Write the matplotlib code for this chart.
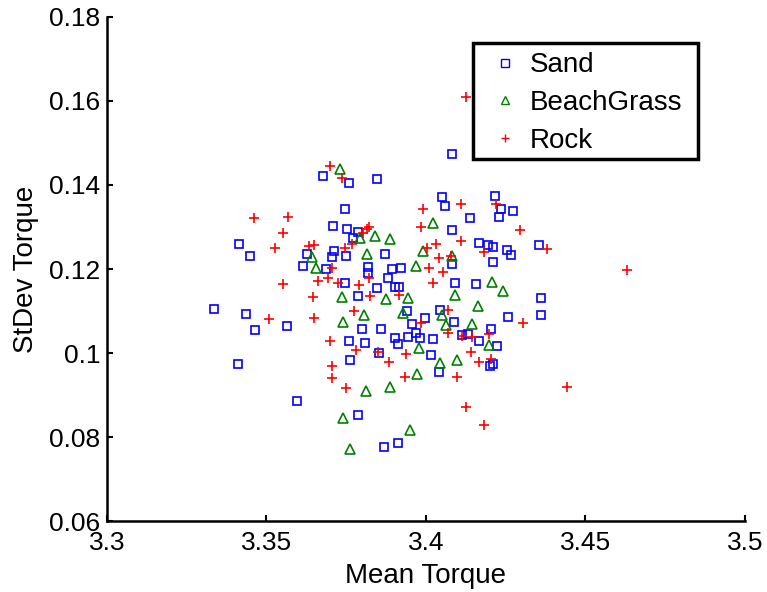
import numpy as np
import matplotlib
matplotlib.use("Agg")
import matplotlib.pyplot as plt
from matplotlib.patches import Rectangle

plt.rcParams['font.family'] = ['Liberation Sans', 'DejaVu Sans']

# Sand
sand_x = [3.4082, 3.3678, 3.3847, 3.3758, 3.4049, 3.4061, 3.3746, 3.4215, 3.4234, 3.4272,
          3.4230, 3.4139, 3.3708, 3.3751, 3.3788, 3.4082, 3.3772, 3.3414, 3.3449, 3.3628,
          3.3613, 3.3687, 3.3712, 3.3704, 3.3749, 3.3871, 3.4081, 3.3817, 3.3819, 3.3892,
          3.3921, 3.3747, 3.3881, 3.3847, 3.3904, 3.3916, 3.4091, 3.3786, 3.4166, 3.4195,
          3.4211, 3.4255, 3.4266, 3.4353, 3.4211, 3.4156, 3.4359, 3.4361, 3.3335, 3.3436,
          3.3464, 3.3563, 3.3411, 3.3596, 3.3941, 3.3997, 3.4044, 3.4088, 3.3955, 3.3798,
          3.3860, 3.3968, 3.3981, 3.3945, 3.3902, 3.3911, 3.4023, 3.3758, 3.3808, 3.3854,
          3.4017, 3.3762, 3.4042, 3.3788, 3.3913, 3.3869, 3.4112, 3.4133, 3.4258, 3.4203,
          3.4166, 3.4222, 3.4209, 3.4201]
sand_y = [0.1474, 0.1421, 0.1414, 0.1404, 0.1371, 0.1349, 0.1342, 0.1374, 0.1342, 0.1338,
          0.1323, 0.1321, 0.1302, 0.1296, 0.1289, 0.1292, 0.1275, 0.1260, 0.1230, 0.1236,
          0.1207, 0.1201, 0.1244, 0.1229, 0.1231, 0.1235, 0.1211, 0.1204, 0.1190, 0.1200,
          0.1203, 0.1166, 0.1178, 0.1154, 0.1156, 0.1158, 0.1166, 0.1136, 0.1261, 0.1256,
          0.1253, 0.1245, 0.1233, 0.1257, 0.1217, 0.1164, 0.1130, 0.1090, 0.1105, 0.1093,
          0.1054, 0.1064, 0.0975, 0.0886, 0.1100, 0.1084, 0.1102, 0.1074, 0.1069, 0.1056,
          0.1057, 0.1048, 0.1036, 0.1039, 0.1035, 0.1021, 0.1033, 0.1029, 0.1023, 0.1001,
          0.0995, 0.0983, 0.0955, 0.0852, 0.0786, 0.0777, 0.1043, 0.1045, 0.1085, 0.1056,
          0.1029, 0.1017, 0.0973, 0.0969]

# BeachGrass
grass_x = [3.3730, 3.3644, 3.3655, 3.4023, 3.3793, 3.3841, 3.3887, 3.3992, 3.4081, 3.3814,
           3.3968, 3.3736, 3.3876, 3.3945, 3.4091, 3.4206, 3.4240, 3.4162, 3.3807, 3.3739,
           3.3929, 3.4049, 3.4062, 3.4145, 3.3978, 3.4198, 3.4044, 3.4097, 3.3971, 3.3813,
           3.3886, 3.3739, 3.3950, 3.3762]
grass_y = [0.1437, 0.1228, 0.1202, 0.1310, 0.1273, 0.1279, 0.1271, 0.1243, 0.1231, 0.1235,
           0.1208, 0.1133, 0.1129, 0.1130, 0.1137, 0.1170, 0.1148, 0.1113, 0.1090, 0.1075,
           0.1095, 0.1090, 0.1067, 0.1068, 0.1013, 0.1019, 0.0977, 0.0983, 0.0949, 0.0910,
           0.0918, 0.0846, 0.0817, 0.0771]

# Rock
rock_x = [3.4124, 3.3699, 3.3736, 3.3461, 3.3567, 3.3553, 3.3527, 3.3634, 3.3649, 3.3662,
          3.3693, 3.3553, 3.3647, 3.3990, 3.3984, 3.3820, 3.3814, 3.3767, 3.3802, 3.3746,
          3.4031, 3.4004, 3.4042, 3.4078, 3.4010, 3.4054, 3.3705, 3.3725, 3.3822, 3.3791,
          3.3916, 3.4023, 3.3824, 3.4110, 3.4218, 3.4295, 3.4110, 3.4181, 3.4380, 3.4630,
          3.3508, 3.3650, 3.3699, 3.3774, 3.3984, 3.4070, 3.4068, 3.3780, 3.3850, 3.3937,
          3.3885, 3.3705, 3.3934, 3.3705, 3.3749, 3.4096, 3.4303, 3.4112, 3.4143, 3.4198,
          3.4140, 3.4166, 3.4204, 3.4443, 3.4124, 3.4183]
rock_y = [0.1610, 0.1445, 0.1416, 0.1322, 0.1325, 0.1286, 0.1249, 0.1255, 0.1257, 0.1171,
          0.1179, 0.1164, 0.1133, 0.1342, 0.1300, 0.1299, 0.1295, 0.1260, 0.1285, 0.1249,
          0.1259, 0.1251, 0.1227, 0.1231, 0.1203, 0.1194, 0.1202, 0.1166, 0.1179, 0.1162,
          0.1139, 0.1166, 0.1135, 0.1355, 0.1355, 0.1293, 0.1267, 0.1241, 0.1247, 0.1198,
          0.1081, 0.1084, 0.1029, 0.1101, 0.1072, 0.1102, 0.1047, 0.1007, 0.1003, 0.0998,
          0.0978, 0.0969, 0.0942, 0.0940, 0.0916, 0.0942, 0.1072, 0.1040, 0.1039, 0.1045,
          0.1002, 0.0979, 0.0986, 0.0920, 0.0872, 0.0829]

xticks = [3.3, 3.35, 3.4, 3.45, 3.5]
xtick_labels = ['3.3', '3.35', '3.4', '3.45', '3.5']
yticks = [0.06, 0.08, 0.1, 0.12, 0.14, 0.16, 0.18]
ytick_labels = ['0.06', '0.08', '0.1', '0.12', '0.14', '0.16', '0.18']

fig = plt.figure(figsize=(7.67, 5.92), dpi=100)
ax = fig.add_axes([0.1395, 0.1199, 0.8318, 0.8514])

ax.plot(sand_x, sand_y, 's', mfc='none', mec='#0000ff', ms=6.3, mew=1.2, label='Sand')
ax.plot(grass_x, grass_y, '^', mfc='none', mec='#008000', ms=7.5, mew=1.2, label='BeachGrass')
ax.plot(rock_x, rock_y, '+', color='#ff0000', ms=7.5, mew=1.2, label='Rock')

ax.set_xlim(3.3, 3.5)
ax.set_ylim(0.06, 0.18)
ax.set_xticks(xticks)
ax.set_xticklabels(xtick_labels)
ax.set_yticks(yticks)
ax.set_yticklabels(ytick_labels)
ax.tick_params(direction='in', length=4, width=1.5, labelsize=19)
ax.tick_params(axis='x', pad=7)
ax.tick_params(axis='y', pad=5)

for s in ['top', 'right']:
    ax.spines[s].set_visible(False)
for s in ['left', 'bottom']:
    ax.spines[s].set_linewidth(1.8)

ax.set_xlabel('Mean Torque', fontsize=20, labelpad=6)
ax.set_ylabel('StDev Torque', fontsize=20, labelpad=7)

# legend box (MATLAB style thick frame)
ax.add_patch(Rectangle((0.574, 0.718), 0.352, 0.230, transform=ax.transAxes,
                       fill=False, ec='black', lw=2.5, zorder=5, clip_on=False))
leg = ax.legend(loc='upper left', bbox_to_anchor=(0.574, 0.938), borderaxespad=0,
                fontsize=20, frameon=False, handlelength=2.0, handletextpad=-0.1,
                labelspacing=0.42, borderpad=0.15, numpoints=1)
for h in leg.legend_handles:
    h.set_markersize(6)
    h.set_markeredgewidth(1.0)

fig.savefig('out.png', dpi=100)
